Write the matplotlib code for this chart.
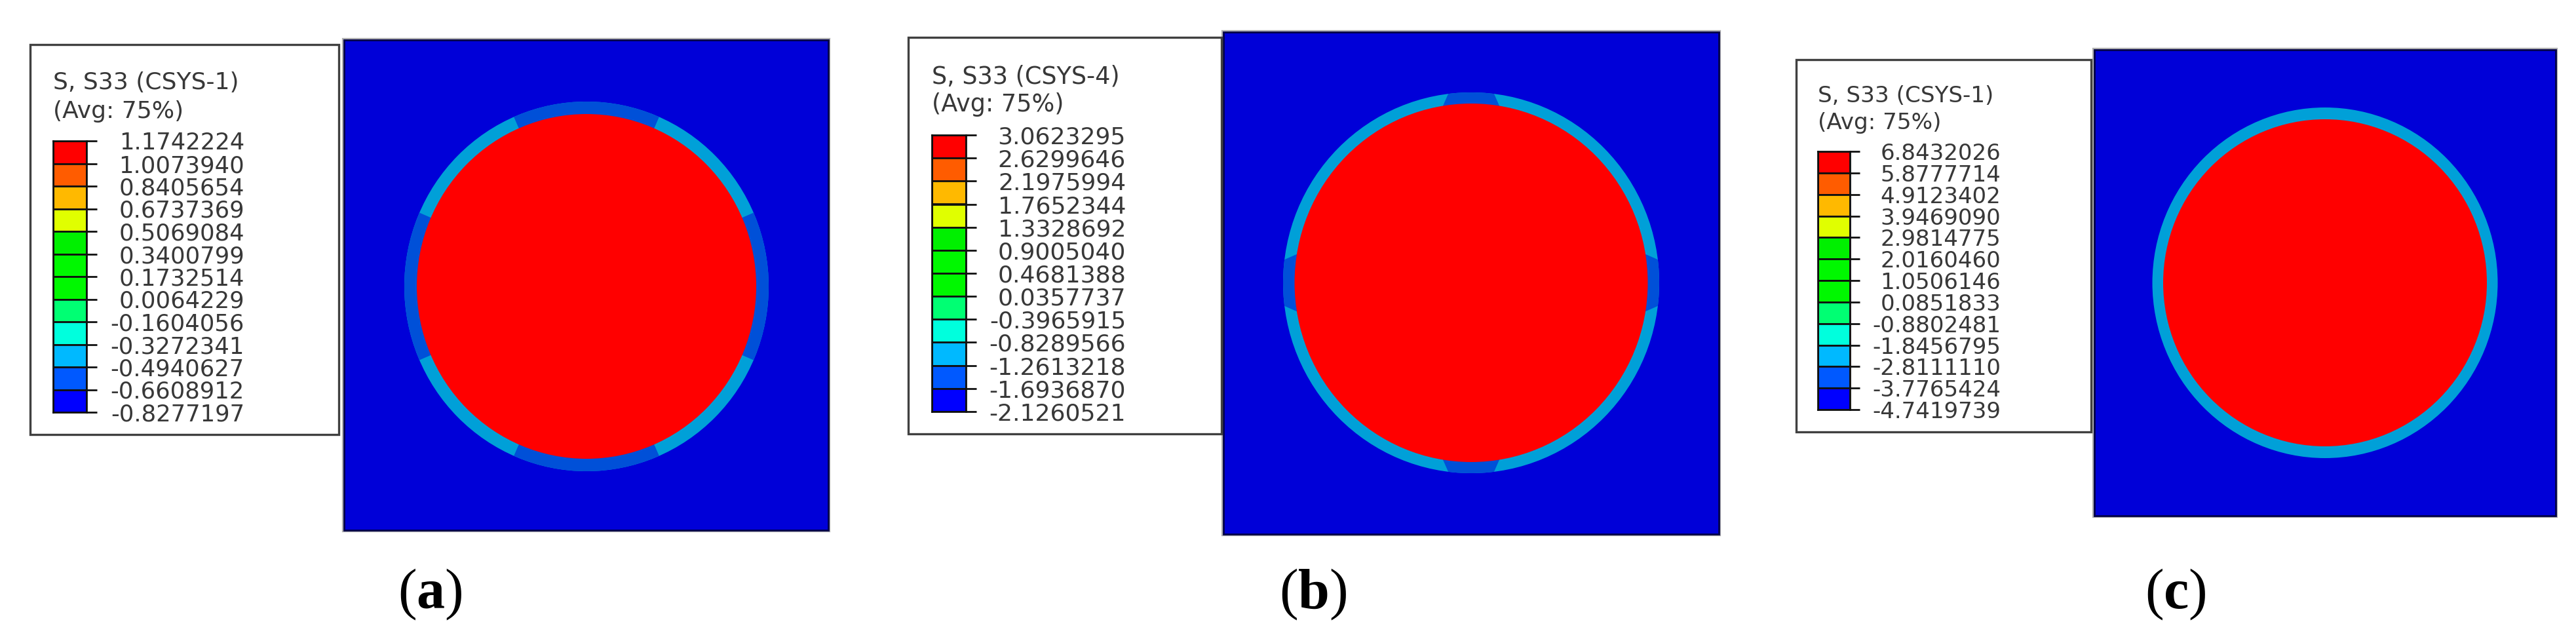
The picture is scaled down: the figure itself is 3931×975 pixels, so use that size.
import matplotlib
matplotlib.use('Agg')
import matplotlib.pyplot as plt
import numpy as np
from matplotlib.patches import Ellipse, Polygon, Rectangle

plt.rcParams['font.family'] = ['DejaVu Sans']
plt.rcParams['mathtext.fontset'] = 'custom'
plt.rcParams['mathtext.rm'] = 'Liberation Serif'
plt.rcParams['mathtext.bf'] = 'Liberation Serif:bold'

W, H = 3931, 975

# legend values, top to bottom
levels_a = [1.1742224, 1.0073940, 0.8405654, 0.6737369, 0.5069084, 0.3400799, 0.1732514,
            0.0064229, -0.1604056, -0.3272341, -0.4940627, -0.6608912, -0.8277197]
levels_b = [3.0623295, 2.6299646, 2.1975994, 1.7652344, 1.3328692, 0.9005040, 0.4681388,
            0.0357737, -0.3965915, -0.8289566, -1.2613218, -1.6936870, -2.1260521]
levels_c = [6.8432026, 5.8777714, 4.9123402, 3.9469090, 2.9814775, 2.0160460, 1.0506146,
            0.0851833, -0.8802481, -1.8456795, -2.8111110, -3.7765424, -4.7419739]
titles = ['S, S33 (CSYS-1)', 'S, S33 (CSYS-4)', 'S, S33 (CSYS-1)']
avg_line = '(Avg: 75%)'
panel_names = ['a', 'b', 'c']

band_colors = ['#ff0000', '#ff5c00', '#ffb900', '#e0ff00', '#00f000', '#00f800',
               '#00f800', '#00ff73', '#00ffdd', '#00b9ff', '#0059ff', '#0000ff']
field_blue = '#0000d8'
ring_dark = '#0050d8'
ring_light = '#00a0d8'
core_red = '#ff0000'

# layout, in pixels of the output image
boxes = [(46, 68, 517, 663), (1386, 57, 1864, 662), (2741, 91, 3191, 659)]
bars = [(81, 215, 132, 629), (1422, 206, 1474, 628), (2774, 231, 2823, 625)]
tick_ends = [148, 1490, 2838]
label_right = [373, 1718, 3053]
title_y = [(126, 170), (117, 160), (146, 187)]
title_size = [26, 26.4, 24.7]
label_size = [25.5, 26, 24.5]
squares = [(525, 61, 1264, 809), (1867, 49, 2623, 815), (3196, 76, 3900, 787)]
# cx, cy, outer rx, outer ry, inner rx, inner ry
circles = [(895, 437, 278, 282, 259, 263), (2245, 431.5, 287, 290.5, 269.5, 273.5),
           (3548, 431.5, 263.5, 267.5, 247, 249.5)]
# half angle of the dark ring pieces at outer and inner edge, degrees
dark_half = [(23.5, 23.5), (7.0, 9.6), None]
caption_x = [656, 2004, 3320]
caption_y = 928


def px_axes(x0, y0, x1, y1):
    return fig.add_axes([x0 / W, 1 - y1 / H, (x1 - x0) / W, (y1 - y0) / H])


fig = plt.figure(figsize=(W / 100, H / 100), dpi=100, facecolor='white')
base = fig.add_axes([0, 0, 1, 1])
base.set_xlim(0, W)
base.set_ylim(H, 0)
base.axis('off')

all_levels = [levels_a, levels_b, levels_c]

for i in range(3):
    # model square
    x0, y0, x1, y1 = squares[i]
    base.add_patch(Rectangle((x0, y0), x1 - x0, y1 - y0, fc=field_blue, ec='#b0b0b0', lw=4.5))
    base.add_patch(Rectangle((x0, y0), x1 - x0, y1 - y0, fc=field_blue, ec='#000048', lw=2))

    # tube ring and concrete core
    cx, cy, orx, ory, irx, iry = circles[i]
    base.add_patch(Ellipse((cx, cy), 2 * orx, 2 * ory, fc=ring_light, ec='none'))
    if dark_half[i] is not None:
        h_out, h_in = dark_half[i]
        for mid in [0, 90, 180, 270]:
            a_out = np.radians(np.linspace(mid - h_out, mid + h_out, 30))
            a_in = np.radians(np.linspace(mid + h_in, mid - h_in, 30))
            # a little past the inner edge, the core covers it
            px = np.r_[cx + orx * np.cos(a_out), cx + (irx - 3) * np.cos(a_in)]
            py = np.r_[cy + ory * np.sin(a_out), cy + (iry - 3) * np.sin(a_in)]
            base.add_patch(Polygon(np.c_[px, py], fc=ring_dark, ec='none'))
    base.add_patch(Ellipse((cx, cy), 2 * irx, 2 * iry, fc=core_red, ec='none'))

    # legend box
    bx0, by0, bx1, by1 = boxes[i]
    base.add_patch(Rectangle((bx0, by0), bx1 - bx0, by1 - by0, fc='white', ec='#404040', lw=2.4,
                             zorder=3))
    base.text(bars[i][0], title_y[i][0], titles[i], fontsize=title_size[i], color='#383838',
              va='center', ha='left', zorder=4)
    base.text(bars[i][0], title_y[i][1], avg_line, fontsize=title_size[i], color='#383838',
              va='center', ha='left', zorder=4)

    # colour bar, tick labels come from the levels
    bar_x0, bar_y0, bar_x1, bar_y1 = bars[i]
    ax = px_axes(bar_x0, bar_y0, bar_x1, bar_y1)
    ax.set_zorder(5)
    ax.barh(np.arange(12), np.ones(12), height=1, left=0, align='edge', color=band_colors,
            edgecolor='#101010', linewidth=2)
    ax.set_xlim(0, 1)
    ax.set_ylim(12, 0)
    ax.set_xticks([])
    ax.yaxis.tick_right()
    ax.set_yticks(np.arange(13))
    ax.set_yticklabels(['%.7f' % v for v in all_levels[i]], ha='right', fontsize=label_size[i],
                       color='#383838')
    ax.tick_params(axis='y', length=(tick_ends[i] - bar_x1) * 0.72, width=2, color='#101010',
                   pad=(label_right[i] - tick_ends[i]) * 0.72)
    for s in ax.spines.values():
        s.set_linewidth(2)
        s.set_color('#101010')

    # caption
    base.text(caption_x[i], caption_y, r'($\mathbf{%s}$)' % panel_names[i], fontsize=62,
              family=['Liberation Serif'], ha='center', va='baseline', color='black')

fig.savefig('out.png', dpi=100)
